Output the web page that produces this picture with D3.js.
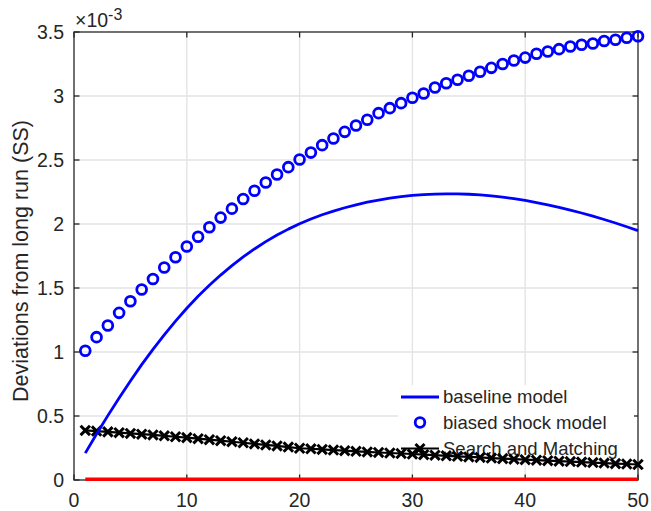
<!DOCTYPE html>
<html>
<head>
<meta charset="utf-8">
<script src="https://cdn.jsdelivr.net/npm/d3@7"></script>
<style>
  body { margin: 0; background: #fff; }
  text { font-family: "Liberation Sans", Arial, sans-serif; fill: #262626; }
</style>
</head>
<body>
<script>
// x = 1..50 periods
var periods = d3.range(1, 51);

// values are in units of 1e-3
var baseline = [0.21, 0.359, 0.503, 0.641, 0.774, 0.901, 1.021, 1.134, 1.241, 1.342,
  1.435, 1.521, 1.601, 1.675, 1.743, 1.805, 1.862, 1.914, 1.960, 2.002,
  2.039, 2.072, 2.101, 2.127, 2.150, 2.170, 2.187, 2.202, 2.214, 2.223,
  2.230, 2.234, 2.235, 2.235, 2.2325, 2.2275, 2.220, 2.210, 2.198, 2.184,
  2.167, 2.149, 2.130, 2.1085, 2.086, 2.061, 2.035, 2.008, 1.9785, 1.948];

var biased = [1.01, 1.116, 1.207, 1.306, 1.397, 1.488, 1.57, 1.66, 1.74, 1.824,
  1.90, 1.975, 2.05, 2.12, 2.195, 2.26, 2.324, 2.387, 2.444, 2.504,
  2.558, 2.616, 2.668, 2.72, 2.77, 2.814, 2.866, 2.905, 2.944, 2.986,
  3.02, 3.066, 3.10, 3.127, 3.158, 3.19, 3.22, 3.25, 3.277, 3.30,
  3.33, 3.348, 3.366, 3.387, 3.40, 3.41, 3.43, 3.44, 3.455, 3.467];

var searchMatching = [0.387, 0.382, 0.376, 0.370, 0.364, 0.358, 0.352, 0.345, 0.338, 0.331,
  0.323, 0.315, 0.307, 0.299, 0.291, 0.282, 0.274, 0.266, 0.257, 0.248,
  0.244, 0.239, 0.234, 0.229, 0.224, 0.219, 0.215, 0.211, 0.207, 0.203,
  0.198, 0.194, 0.189, 0.185, 0.180, 0.176, 0.171, 0.167, 0.163, 0.159,
  0.155, 0.151, 0.147, 0.144, 0.140, 0.136, 0.132, 0.128, 0.125, 0.121];

var longRun = periods.map(function () { return 0; });

var xTicks = [0, 10, 20, 30, 40, 50];
var yTicks = [0, 0.5, 1, 1.5, 2, 2.5, 3, 3.5];
var legendLabels = ["baseline model", "biased shock model", "Search and Matching"];

// plot area
var LEFT = 74, RIGHT = 638, TOP = 32, BOTTOM = 480;

var svg = d3.select("body").append("svg")
  .attr("width", 651).attr("height", 511);

var x = d3.scaleLinear().domain([0, 50]).range([LEFT, RIGHT]);
var y = d3.scaleLinear().domain([0, 3.5]).range([BOTTOM, TOP]);

// grid
var grid = svg.append("g").attr("stroke", "#e3e3e3").attr("stroke-width", 1.3);
grid.selectAll(".gx").data(xTicks.slice(1, -1)).enter().append("line")
  .attr("x1", function (d) { return x(d); }).attr("x2", function (d) { return x(d); })
  .attr("y1", TOP).attr("y2", BOTTOM);
grid.selectAll(".gy").data(yTicks.slice(1, -1)).enter().append("line")
  .attr("x1", LEFT).attr("x2", RIGHT)
  .attr("y1", function (d) { return y(d); }).attr("y2", function (d) { return y(d); });

// axes box
var axisColor = "#262626";
svg.append("rect").attr("x", LEFT).attr("y", TOP)
  .attr("width", RIGHT - LEFT).attr("height", BOTTOM - TOP)
  .attr("fill", "none").attr("stroke", axisColor).attr("stroke-width", 1.3);

// ticks inward, on all sides
var ticks = svg.append("g").attr("stroke", axisColor).attr("stroke-width", 1.3);
xTicks.forEach(function (t) {
  ticks.append("line").attr("x1", x(t)).attr("x2", x(t)).attr("y1", BOTTOM).attr("y2", BOTTOM - 5.5);
  ticks.append("line").attr("x1", x(t)).attr("x2", x(t)).attr("y1", TOP).attr("y2", TOP + 5.5);
});
yTicks.forEach(function (t) {
  ticks.append("line").attr("x1", LEFT).attr("x2", LEFT + 5.5).attr("y1", y(t)).attr("y2", y(t));
  ticks.append("line").attr("x1", RIGHT).attr("x2", RIGHT - 5.5).attr("y1", y(t)).attr("y2", y(t));
});

// legend (sits under the data in the reference)
var lg = svg.append("g");
lg.append("rect").attr("x", 398).attr("y", 385).attr("width", 236).attr("height", 75)
  .attr("fill", "#fff");
var rowY = [397, 422.5, 448.5];
lg.selectAll("text").data(legendLabels).enter().append("text")
  .attr("x", 443).attr("y", function (d, i) { return rowY[i]; })
  .attr("dy", "0.35em").attr("font-size", 18.5).text(function (d) { return d; });
lg.append("line").attr("x1", 401).attr("x2", 439).attr("y1", rowY[0]).attr("y2", rowY[0])
  .attr("stroke", "#0000ff").attr("stroke-width", 2.8);
lg.append("circle").attr("cx", 420).attr("cy", rowY[1]).attr("r", 4.8)
  .attr("fill", "none").attr("stroke", "#0000ff").attr("stroke-width", 2.8);
lg.append("line").attr("x1", 401).attr("x2", 439).attr("y1", rowY[2]).attr("y2", rowY[2])
  .attr("stroke", "#000").attr("stroke-width", 2.2);
lg.append("path").attr("transform", "translate(420," + rowY[2] + ")")
  .attr("d", "M-4.5,-4.5L4.5,4.5M-4.5,4.5L4.5,-4.5")
  .attr("stroke", "#000").attr("stroke-width", 3);

// data
var line = d3.line()
  .x(function (d, i) { return x(periods[i]); })
  .y(function (d) { return y(d); });

svg.append("path").datum(longRun).attr("d", line)
  .attr("transform", "translate(0,-0.8)")
  .attr("fill", "none").attr("stroke", "#ff0000").attr("stroke-width", 3.4);

svg.append("path").datum(searchMatching).attr("d", line)
  .attr("fill", "none").attr("stroke", "#000").attr("stroke-width", 2.2);
svg.append("g").selectAll("path").data(searchMatching).enter().append("path")
  .attr("transform", function (d, i) { return "translate(" + x(periods[i]) + "," + y(d) + ")"; })
  .attr("d", "M-4.7,-4.7L4.7,4.7M-4.7,4.7L4.7,-4.7")
  .attr("stroke", "#000").attr("stroke-width", 3);

svg.append("path").datum(baseline).attr("d", line)
  .attr("fill", "none").attr("stroke", "#0000ff").attr("stroke-width", 2.8)
  .attr("stroke-linejoin", "round");

svg.append("g").selectAll("circle").data(biased).enter().append("circle")
  .attr("cx", function (d, i) { return x(periods[i]); })
  .attr("cy", function (d) { return y(d); })
  .attr("r", 4.9).attr("fill", "none").attr("stroke", "#0000ff").attr("stroke-width", 2.8);

// tick labels
svg.append("g").selectAll("text").data(xTicks).enter().append("text")
  .attr("x", function (d) { return x(d); }).attr("y", 500)
  .attr("dy", "0.35em").attr("text-anchor", "middle").attr("font-size", 19.5)
  .text(function (d) { return d; });

svg.append("g").selectAll("text").data(yTicks).enter().append("text")
  .attr("x", 64).attr("y", function (d) { return y(d); })
  .attr("dy", "0.35em").attr("text-anchor", "end").attr("font-size", 19.5)
  .text(function (d) { return d; });

// exponent
var expo = svg.append("text").attr("x", 75).attr("y", 27).attr("font-size", 19.5);
expo.append("tspan").text("\u00d710");
expo.append("tspan").attr("dy", -7).attr("font-size", 16).text("-3");

// y title
svg.append("text")
  .attr("transform", "translate(28,261) rotate(-90)")
  .attr("text-anchor", "middle").attr("font-size", 21.5)
  .text("Deviations from long run (SS)");
</script>
</body>
</html>
